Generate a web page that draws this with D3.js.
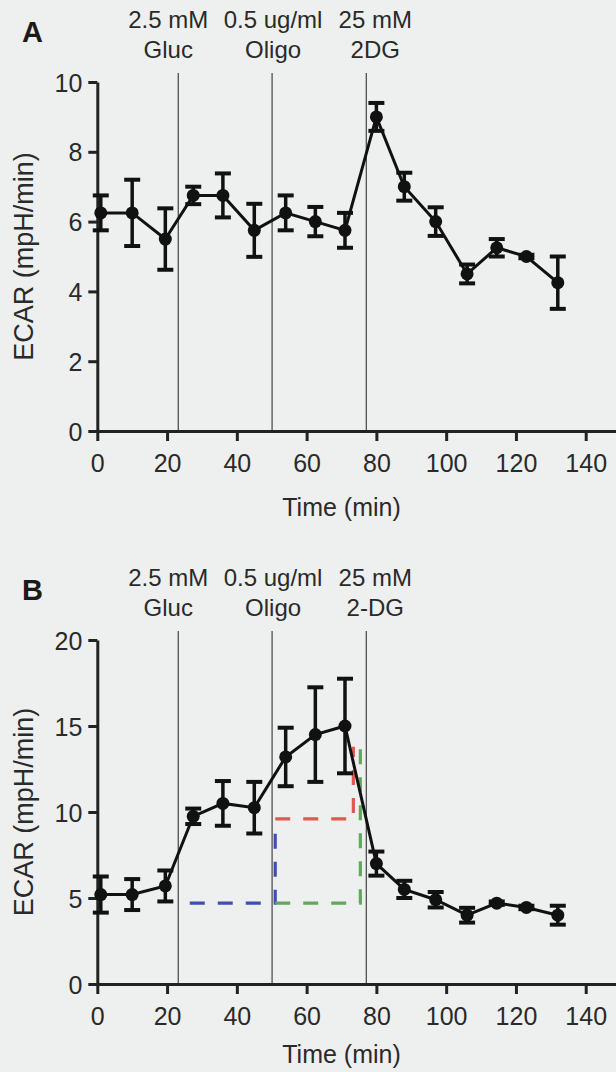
<!DOCTYPE html>
<html>
<head>
<meta charset="utf-8">
<script src="https://cdn.jsdelivr.net/npm/d3@7"></script>
<style>
    body { margin: 0; background: #eef0ef; }
    svg { display: block; }
    text { font-family: "Liberation Sans", Arial, sans-serif; fill: #2a2a2a; }
</style>
</head>
<body>
<svg id="chart" width="616" height="1072"></svg>
<script>
// time points (min) of the measurements, same for both panels
var times = [1, 10, 19.5, 27.5, 36, 45, 54, 62.5, 71, 80, 88, 97, 106, 114.5, 123, 132];

// panel A: ECAR mean and error
var ecarA = [6.25, 6.25, 5.5, 6.75, 6.75, 5.75, 6.25, 6.0, 5.75, 9.0, 7.0, 6.0, 4.5, 5.25, 5.0, 4.25];
var errA  = [0.5, 0.95, 0.88, 0.25, 0.63, 0.76, 0.5, 0.42, 0.5, 0.4, 0.4, 0.41, 0.27, 0.25, 0.05, 0.75];

// panel B: ECAR mean and error
var ecarB = [5.2, 5.2, 5.7, 9.75, 10.5, 10.25, 13.2, 14.5, 15.0, 7.0, 5.5, 4.9, 4.0, 4.7, 4.45, 4.0];
var errB  = [1.05, 0.9, 0.9, 0.45, 1.3, 1.5, 1.7, 2.75, 2.75, 0.7, 0.5, 0.45, 0.43, 0.1, 0.1, 0.55];

// injections
var injectTimes = [23.2, 50.1, 77.1];
var injectTopA = ["2.5 mM", "0.5 ug/ml", "25 mM"];
var injectBottomA = ["Gluc", "Oligo", "2DG"];
var injectTopB = ["2.5 mM", "0.5 ug/ml", "25 mM"];
var injectBottomB = ["Gluc", "Oligo", "2-DG"];

// axis ticks
var xTicks = [0, 20, 40, 60, 80, 100, 120, 140];
var yTicksA = [0, 2, 4, 6, 8, 10];
var yTicksB = [0, 5, 10, 15, 20];

// dashed guides in panel B (time, ecar)
var guideBlue  = [[26.5, 4.7], [51, 4.7], [51, 9.0]];
var guideRed   = [[51, 9.6], [73.4, 9.6], [73.4, 13.8]];
var guideGreen = [[51, 4.7], [75.4, 4.7], [75.4, 13.8]];

var svg = d3.select("#chart");

//function to draw one panel
function drawPanel(opts){

    var x = d3.scaleLinear()
        .domain([0, 149])
        .range([97.3, 97.3 + 149 * 3.4886]);

    var y = d3.scaleLinear()
        .domain([0, opts.yMax])
        .range([opts.bottom, opts.top]);

    var g = svg.append("g");

    // panel letter
    g.append("text")
        .attr("x", 22)
        .attr("y", opts.top - 40)
        .attr("font-size", 29)
        .attr("font-weight", "bold")
        .style("fill", "#1a1a1a")
        .text(opts.letter);

    // injection lines and labels
    g.selectAll(".inj")
        .data(injectTimes)
        .enter()
        .append("line")
        .attr("x1", d => x(d))
        .attr("x2", d => x(d))
        .attr("y1", opts.top - 9)
        .attr("y2", opts.bottom)
        .attr("stroke", "#333")
        .attr("stroke-width", 1.1);

    var labelX = injectTimes.map(function(d, i){ return x(d) + [-10, 1, 9][i]; });

    g.selectAll(".injTop")
        .data(opts.injTop)
        .enter()
        .append("text")
        .attr("x", (d, i) => labelX[i])
        .attr("y", opts.top - 54)
        .attr("text-anchor", "middle")
        .attr("font-size", 24)
        .text(d => d);

    g.selectAll(".injBot")
        .data(opts.injBottom)
        .enter()
        .append("text")
        .attr("x", (d, i) => labelX[i])
        .attr("y", opts.top - 24)
        .attr("text-anchor", "middle")
        .attr("font-size", 24)
        .text(d => d);

    // dashed guides
    if (opts.guides) {
        var guideLine = d3.line()
            .x(d => x(d[0]))
            .y(d => y(d[1]));
        opts.guides.forEach(function(gd){
            g.append("path")
                .attr("d", guideLine(gd.pts))
                .attr("fill", "none")
                .attr("stroke", gd.color)
                .attr("stroke-width", 3.2)
                .attr("stroke-dasharray", "15,13");
        });
    }

    // axes
    var xAxis = g.append("g")
        .attr("transform", "translate(0," + opts.bottom + ")")
        .call(d3.axisBottom(x).tickValues(xTicks).tickSize(10).tickSizeOuter(0).tickPadding(13));

    var yAxis = g.append("g")
        .attr("transform", "translate(97.3,0)")
        .call(d3.axisLeft(y).tickValues(opts.yTicks).tickSize(9).tickSizeOuter(0).tickPadding(6));

    [xAxis, yAxis].forEach(function(a){
        a.select(".domain").attr("stroke", "#222").attr("stroke-width", 3);
        a.selectAll(".tick line").attr("stroke", "#222").attr("stroke-width", 3);
        a.selectAll(".tick text")
            .attr("font-size", 25)
            .attr("font-family", "Liberation Sans, Arial, sans-serif")
            .style("fill", "#2a2a2a");
    });
    yAxis.selectAll(".tick text").attr("dy", "0.36em");

    // axis titles
    g.append("text")
        .attr("x", x(70))
        .attr("y", opts.bottom + opts.titleOffset)
        .attr("text-anchor", "middle")
        .attr("font-size", 25)
        .text("Time (min)");

    g.append("text")
        .attr("transform", "translate(33," + ((opts.top + opts.bottom) / 2) + ") rotate(-90)")
        .attr("text-anchor", "middle")
        .attr("font-size", 27)
        .text("ECAR (mpH/min)");

    // data line
    var line = d3.line()
        .x((d, i) => x(times[i]))
        .y(d => y(d));

    g.append("path")
        .attr("d", line(opts.values))
        .attr("fill", "none")
        .attr("stroke", "#111")
        .attr("stroke-width", 3);

    // error bars
    var eb = g.selectAll(".err")
        .data(opts.values)
        .enter()
        .append("g");

    eb.append("line")
        .attr("x1", (d, i) => x(times[i]))
        .attr("x2", (d, i) => x(times[i]))
        .attr("y1", (d, i) => y(d + opts.errors[i]))
        .attr("y2", (d, i) => y(d - opts.errors[i]))
        .attr("stroke", "#111")
        .attr("stroke-width", 3.5);

    [1, -1].forEach(function(sign){
        eb.append("line")
            .attr("x1", (d, i) => x(times[i]) - 8)
            .attr("x2", (d, i) => x(times[i]) + 8)
            .attr("y1", (d, i) => y(d + sign * opts.errors[i]))
            .attr("y2", (d, i) => y(d + sign * opts.errors[i]))
            .attr("stroke", "#111")
            .attr("stroke-width", 4);
    });

    // points
    g.selectAll(".pt")
        .data(opts.values)
        .enter()
        .append("circle")
        .attr("cx", (d, i) => x(times[i]))
        .attr("cy", d => y(d))
        .attr("r", 6.5)
        .attr("fill", "#111");
}

drawPanel({
    letter: "A",
    top: 82,
    bottom: 431,
    yMax: 10,
    yTicks: yTicksA,
    values: ecarA,
    errors: errA,
    injTop: injectTopA,
    injBottom: injectBottomA,
    titleOffset: 85
});

drawPanel({
    letter: "B",
    top: 640,
    bottom: 984,
    yMax: 20,
    yTicks: yTicksB,
    values: ecarB,
    errors: errB,
    injTop: injectTopB,
    injBottom: injectBottomB,
    titleOffset: 79,
    guides: [
        {pts: guideBlue, color: "#3f4fae"},
        {pts: guideRed, color: "#dc5a50"},
        {pts: guideGreen, color: "#62a85c"}
    ]
});
</script>
</body>
</html>
